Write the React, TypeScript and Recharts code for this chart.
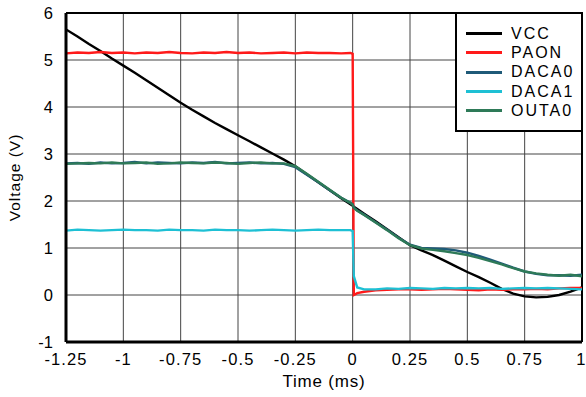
import React from "react";
import { LineChart, Line, XAxis, YAxis, CartesianGrid, ReferenceLine } from "recharts";

const times = [-1.25,-1.2,-1.15,-1.1,-1.05,-1,-0.95,-0.9,-0.85,-0.8,-0.75,-0.7,-0.65,-0.6,-0.55,-0.5,-0.45,-0.4,-0.35,-0.3,-0.25,-0.2,-0.15,-0.1,-0.05,-0.01,0,0.005,0.02,0.05,0.1,0.15,0.2,0.25,0.3,0.35,0.4,0.45,0.5,0.55,0.6,0.65,0.7,0.75,0.8,0.85,0.9,0.95,1];
const vcc = [5.65,5.5,5.34,5.19,5.03,4.88,4.73,4.57,4.41,4.25,4.09,3.94,3.8,3.66,3.53,3.4,3.27,3.14,3.01,2.88,2.74,2.57,2.4,2.23,2.06,1.93,1.9,1.88,1.83,1.73,1.57,1.4,1.23,1.06,0.95,0.85,0.73,0.61,0.49,0.38,0.26,0.13,0.03,-0.03,-0.05,-0.04,0.0,0.07,0.16];
const paon = [5.14,5.16,5.15,5.17,5.15,5.16,5.14,5.16,5.15,5.17,5.15,5.14,5.16,5.15,5.17,5.15,5.16,5.14,5.15,5.16,5.14,5.16,5.15,5.15,5.14,5.15,5.13,0.0,0.04,0.07,0.1,0.11,0.12,0.12,0.11,0.12,0.13,0.12,0.11,0.1,0.12,0.11,0.12,0.12,0.13,0.12,0.14,0.15,0.15];
const daca0 = [2.8,2.81,2.79,2.82,2.8,2.81,2.83,2.8,2.82,2.81,2.8,2.82,2.81,2.83,2.8,2.81,2.82,2.8,2.81,2.79,2.72,2.56,2.4,2.23,2.07,1.96,1.93,1.86,1.8,1.71,1.55,1.39,1.22,1.07,1.0,0.99,0.98,0.95,0.9,0.83,0.75,0.67,0.58,0.5,0.45,0.42,0.42,0.41,0.43];
const daca1 = [1.37,1.39,1.38,1.37,1.38,1.39,1.38,1.38,1.37,1.39,1.38,1.38,1.37,1.39,1.38,1.38,1.37,1.38,1.39,1.38,1.37,1.38,1.39,1.38,1.38,1.38,1.36,0.4,0.16,0.12,0.12,0.14,0.13,0.15,0.14,0.13,0.15,0.14,0.15,0.14,0.15,0.13,0.14,0.15,0.14,0.15,0.14,0.13,0.12];
const outa0 = [2.79,2.8,2.81,2.8,2.82,2.8,2.81,2.82,2.79,2.8,2.82,2.81,2.8,2.82,2.81,2.79,2.81,2.82,2.8,2.8,2.74,2.58,2.41,2.24,2.07,1.96,1.92,1.85,1.79,1.7,1.54,1.38,1.21,1.06,0.99,0.96,0.93,0.89,0.85,0.79,0.72,0.65,0.57,0.5,0.46,0.43,0.41,0.43,0.4];

const xTicks = [-1.25,-1,-0.75,-0.5,-0.25,0,0.25,0.5,0.75,1];
const yTicks = [-1,0,1,2,3,4,5,6];

const seriesNames = ["VCC","PAON","DACA0","DACA1","OUTA0"];
const seriesColors = ["#000000","#ff1a1a","#1f5a78","#1ec0d4","#2e7a58"];
const seriesValues = [vcc, paon, daca0, daca1, outa0];

const data = times.map((t, i) => {
  const row: any = { t };
  seriesNames.forEach((n, k) => { row[n] = seriesValues[k][i]; });
  return row;
});

const FONT = "'Liberation Sans', Arial, sans-serif";

const LegendBox = () => (
  <div style={{ position: "absolute", left: 455, top: 12, width: 124, height: 106, border: "2px solid #000", background: "#fff", fontFamily: FONT, fontSize: 16, paddingTop: 10, boxSizing: "content-box" }}>
    {seriesNames.map((n, k) => (
      <div key={n} style={{ display: "flex", alignItems: "center", height: 19.3 }}>
        <div style={{ marginLeft: 9, width: 36, height: 3, background: seriesColors[k] }} />
        <span style={{ marginLeft: 9, color: "#000", lineHeight: "16px", letterSpacing: 2, whiteSpace: "nowrap" }}>{n}</span>
      </div>
    ))}
  </div>
);

export default function App() {
  return (
    <div style={{ position: "absolute", left: 0, top: 0, width: 586, height: 397, background: "#fff" }}>
      <LineChart width={586} height={397} data={data} margin={{ top: 13, right: 4, bottom: 0, left: 0 }}>
        <CartesianGrid stroke="#444" strokeWidth={1} vertical horizontal />
        <XAxis dataKey="t" type="number" domain={[-1.25, 1]} ticks={xTicks} tickLine={false} height={55}
          axisLine={{ stroke: "#000", strokeWidth: 3 }} tick={{ fill: "#000", fontSize: 16.5, fontFamily: FONT, letterSpacing: 1.1 }} tickMargin={5}
          allowDataOverflow
          label={{ value: "Time (ms)", position: "insideBottom", offset: 10, fill: "#000", fontSize: 17, fontFamily: FONT, letterSpacing: 0.8 }} />
        <YAxis type="number" domain={[-1, 6]} ticks={yTicks} tickLine={false} width={66}
          axisLine={{ stroke: "#000", strokeWidth: 3 }} tick={{ fill: "#000", fontSize: 16.5, fontFamily: FONT }} tickMargin={7}
          allowDataOverflow
          label={{ value: "Voltage (V)", angle: -90, position: "insideLeft", offset: 14, fill: "#000", fontSize: 15.5, fontFamily: FONT, letterSpacing: 1, style: { textAnchor: "middle" } }} />
        <ReferenceLine y={6} stroke="#000" strokeWidth={2} />
        <ReferenceLine x={1} stroke="#000" strokeWidth={2} />
        {seriesNames.map((n, k) => (
          <Line key={n} type="linear" dataKey={n} stroke={seriesColors[k]} strokeWidth={2.4} dot={false} isAnimationActive={false} />
        ))}
      </LineChart>
      <LegendBox />
    </div>
  );
}
